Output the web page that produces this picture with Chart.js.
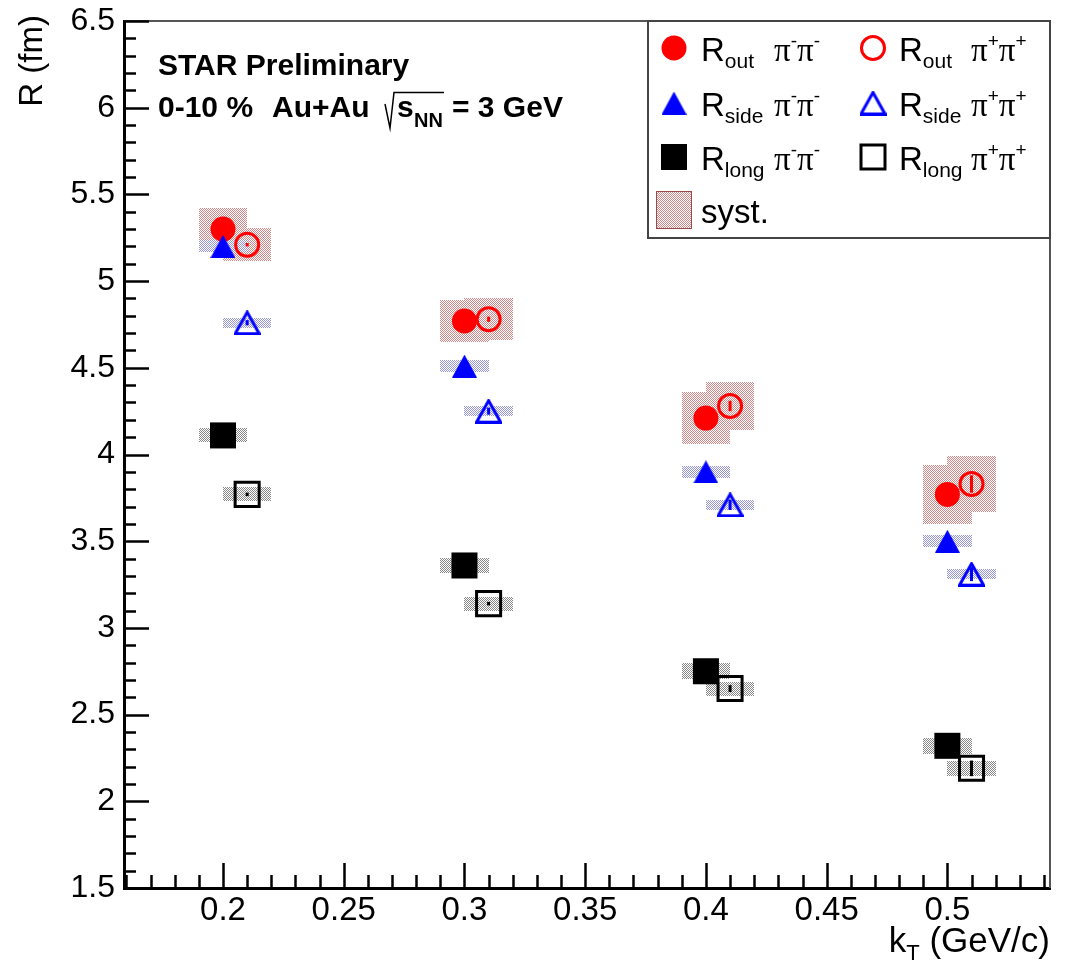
<!DOCTYPE html>
<html>
<head>
<meta charset="utf-8">
<title>HBT radii vs kT</title>
<script src="https://cdn.jsdelivr.net/npm/chart.js@4.4.1/dist/chart.umd.min.js"></script>
<style>
  html, body { margin: 0; padding: 0; background: #fff; overflow: hidden; }
  #box { width: 1070px; height: 967px; }
</style>
</head>
<body>
<div id="box"><canvas id="myChart"></canvas></div>
<script>
// pair kT (GeV/c); the pi+pi+ points are shifted a bit to the right
const ktMinus = [0.2, 0.3, 0.4, 0.5];
const ktPlus = [0.21, 0.31, 0.41, 0.51];

// radii (fm)
const routMinus = [5.30, 4.77, 4.21, 3.77];
const routPlus = [5.21, 4.78, 4.28, 3.83];
const rsideMinus = [5.20, 4.51, 3.90, 3.50];
const rsidePlus = [4.76, 4.25, 3.71, 3.31];
const rlongMinus = [4.11, 3.36, 2.75, 2.32];
const rlongPlus = [3.77, 3.14, 2.65, 2.19];

// statistical errors (fm)
const routMinusStat = [0.01, 0.015, 0.025, 0.04];
const routPlusStat = [0.01, 0.015, 0.03, 0.05];
const rsideMinusStat = [0.01, 0.015, 0.02, 0.03];
const rsidePlusStat = [0.015, 0.02, 0.03, 0.04];
const rlongMinusStat = [0.01, 0.01, 0.015, 0.03];
const rlongPlusStat = [0.01, 0.01, 0.02, 0.045];

// systematic errors (fm), boxes are +-0.01 GeV/c wide
const routMinusSys = [0.12, 0.12, 0.15, 0.17];
const routPlusSys = [0.095, 0.12, 0.14, 0.16];
const rsideMinusSys = [0.035, 0.035, 0.035, 0.035];
const rsidePlusSys = [0.03, 0.03, 0.03, 0.03];
const rlongMinusSys = [0.04, 0.045, 0.045, 0.045];
const rlongPlusSys = [0.04, 0.04, 0.04, 0.045];
const sysHalfWidth = 0.01;

const yTicks = [1.5, 2, 2.5, 3, 3.5, 4, 4.5, 5, 5.5, 6, 6.5];
const xTicks = [0.2, 0.25, 0.3, 0.35, 0.4, 0.45, 0.5];

const SANS = "'Liberation Sans', Arial, Helvetica, sans-serif";
const SERIF = "'Liberation Serif', 'Times New Roman', serif";
const RED = '#ff0000', BLUE = '#0000ff', BLACK = '#000000';

const canvas = document.getElementById('myChart');

function dotPattern(color) {
  const c = document.createElement('canvas');
  c.width = 2; c.height = 2;
  const g = c.getContext('2d');
  g.fillStyle = color;
  g.fillRect(0, 0, 1, 1);
  g.fillRect(1, 1, 1, 1);
  return canvas.getContext('2d').createPattern(c, 'repeat');
}
const redSys = dotPattern('rgb(208,135,135)');
const blueSys = dotPattern('rgb(150,150,215)');
const graySys = dotPattern('rgb(135,135,135)');

// triangles as images so they sit centred on their bounding box like ROOT markers
function triangle(filled, color) {
  const w = filled ? 25 : 27, h = filled ? 23 : 25;
  const c = document.createElement('canvas');
  c.width = w; c.height = h;
  const g = c.getContext('2d');
  g.fillStyle = color; g.strokeStyle = color; g.lineWidth = 3;
  g.beginPath();
  if (filled) {
    g.moveTo(w / 2, 0); g.lineTo(w, h); g.lineTo(0, h);
    g.closePath(); g.fill();
  } else {
    g.moveTo(w / 2, 2); g.lineTo(w - 1.5, h - 1.5); g.lineTo(1.5, h - 1.5);
    g.closePath(); g.stroke();
  }
  return c;
}
const triFilled = triangle(true, BLUE);
const triOpen = triangle(false, BLUE);

function pts(xs, ys) {
  return xs.map((x, i) => ({ x: x, y: ys[i] }));
}

const datasets = [
  { label: 'Rout pi-pi-', data: pts(ktMinus, routMinus), stat: routMinusStat, sys: routMinusSys, sysFill: redSys,
    pointStyle: 'circle', pointRadius: 12.5, pointBackgroundColor: RED, pointBorderColor: RED, pointBorderWidth: 0, order: 6 },
  { label: 'Rout pi+pi+', data: pts(ktPlus, routPlus), stat: routPlusStat, sys: routPlusSys, sysFill: redSys,
    pointStyle: 'circle', pointRadius: 11.5, pointBackgroundColor: 'rgba(0,0,0,0)', pointBorderColor: RED, pointBorderWidth: 3, order: 5 },
  { label: 'Rside pi-pi-', data: pts(ktMinus, rsideMinus), stat: rsideMinusStat, sys: rsideMinusSys, sysFill: blueSys,
    pointStyle: triFilled, pointRadius: 13, pointBackgroundColor: BLUE, pointBorderColor: BLUE, order: 4 },
  { label: 'Rside pi+pi+', data: pts(ktPlus, rsidePlus), stat: rsidePlusStat, sys: rsidePlusSys, sysFill: blueSys,
    pointStyle: triOpen, pointRadius: 13, pointBackgroundColor: BLUE, pointBorderColor: BLUE, order: 3 },
  { label: 'Rlong pi-pi-', data: pts(ktMinus, rlongMinus), stat: rlongMinusStat, sys: rlongMinusSys, sysFill: graySys,
    pointStyle: 'rect', pointRadius: 18.4, pointBackgroundColor: BLACK, pointBorderColor: BLACK, pointBorderWidth: 0, order: 2 },
  { label: 'Rlong pi+pi+', data: pts(ktPlus, rlongPlus), stat: rlongPlusStat, sys: rlongPlusSys, sysFill: graySys,
    pointStyle: 'rect', pointRadius: 17, pointBackgroundColor: 'rgba(0,0,0,0)', pointBorderColor: BLACK, pointBorderWidth: 3, order: 1 },
];

function put(ctx, text, x, y, size, opts) {
  opts = opts || {};
  ctx.font = (opts.bold ? 'bold ' : '') + size + 'px ' + (opts.serif ? SERIF : SANS);
  ctx.fillText(text, x, y);
  return ctx.measureText(text).width;
}

function legendMarker(ctx, kind, filled, color, x, y) {
  ctx.save();
  ctx.fillStyle = color; ctx.strokeStyle = color; ctx.lineWidth = 3;
  if (kind === 'triangle') {
    const img = filled ? triFilled : triOpen;
    ctx.drawImage(img, x - img.width / 2, y - img.height / 2);
  } else {
    ctx.beginPath();
    if (kind === 'circle') ctx.arc(x, y, filled ? 12.5 : 11.5, 0, 2 * Math.PI);
    else { const h = filled ? 13 : 12; ctx.rect(x - h, y - h, 2 * h, 2 * h); }
    if (filled) ctx.fill(); else ctx.stroke();
  }
  ctx.restore();
}

function pionPair(ctx, sign, x, base) {
  let cx = x;
  cx += put(ctx, 'π', cx, base, 33, { serif: true });
  cx += put(ctx, sign, cx, base - 14, 19);
  cx += put(ctx, 'π', cx, base, 33, { serif: true });
  put(ctx, sign, cx, base - 14, 19);
}

// zero the label overhang so the plot frame lands where the original has it
function noPadding(s) {
  s.paddingTop = 0; s.paddingBottom = 0; s.paddingLeft = 0; s.paddingRight = 0;
}

const rootStyle = {
  id: 'rootStyle',
  beforeDatasetsDraw(chart) {
    const { ctx, chartArea: a, scales: { x, y } } = chart;
    ctx.save();
    ctx.beginPath();
    ctx.rect(a.left, a.top, a.width, a.height);
    ctx.clip();
    // systematic boxes
    chart.data.datasets.forEach(ds => {
      ds.data.forEach((p, i) => {
        const x0 = Math.round(x.getPixelForValue(p.x - sysHalfWidth));
        const x1 = Math.round(x.getPixelForValue(p.x + sysHalfWidth));
        const y0 = Math.round(y.getPixelForValue(p.y + ds.sys[i]));
        const y1 = Math.round(y.getPixelForValue(p.y - ds.sys[i]));
        ctx.fillStyle = ds.sysFill;
        ctx.fillRect(x0, y0, x1 - x0, y1 - y0);
      });
    });
    // statistical error bars
    ctx.lineWidth = 3;
    chart.data.datasets.forEach(ds => {
      ctx.strokeStyle = ds.pointBorderColor;
      ds.data.forEach((p, i) => {
        const px = x.getPixelForValue(p.x);
        ctx.beginPath();
        ctx.moveTo(px, y.getPixelForValue(p.y + ds.stat[i]));
        ctx.lineTo(px, y.getPixelForValue(p.y - ds.stat[i]));
        ctx.stroke();
      });
    });
    ctx.restore();
  },
  afterDraw(chart) {
    const { ctx, chartArea: a, scales: { x, y } } = chart;
    ctx.save();

    // frame top / right
    ctx.strokeStyle = '#555';
    ctx.lineWidth = 2;
    ctx.beginPath();
    ctx.moveTo(a.left, a.top); ctx.lineTo(a.right, a.top); ctx.lineTo(a.right, a.bottom);
    ctx.stroke();

    // inward ticks, ROOT style
    ctx.strokeStyle = '#000';
    ctx.lineWidth = 2.5;
    ctx.beginPath();
    for (let i = 15; i <= 65; i++) {
      const py = Math.round(y.getPixelForValue(i / 10)) + 0.5;
      const len = i % 5 === 0 ? 25 : 12;
      ctx.moveTo(a.left, py); ctx.lineTo(a.left + len, py);
    }
    for (let i = 16; i <= 54; i++) {
      const v = i / 100;
      if (v < x.min || v > x.max) continue;
      const px = Math.round(x.getPixelForValue(v)) + 0.5;
      const len = i % 5 === 0 ? 25 : 13;
      ctx.moveTo(px, a.bottom); ctx.lineTo(px, a.bottom - len);
    }
    ctx.stroke();

    ctx.fillStyle = '#000';
    ctx.textBaseline = 'alphabetic';

    // y title
    ctx.save();
    ctx.translate(42, 15);
    ctx.rotate(-Math.PI / 2);
    ctx.textAlign = 'right';
    put(ctx, 'R (fm)', 0, 0, 33);
    ctx.restore();

    // x title, right aligned
    ctx.font = '35px ' + SANS;
    const wk = ctx.measureText('k').width;
    const wRest = ctx.measureText(' (GeV/c)').width;
    ctx.font = '22px ' + SANS;
    const wT = ctx.measureText('T').width;
    let tx = a.right - wk - wT - wRest;
    tx += put(ctx, 'k', tx, 952, 35);
    tx += put(ctx, 'T', tx, 960, 22);
    put(ctx, ' (GeV/c)', tx, 952, 35);

    // labels
    put(ctx, 'STAR Preliminary', 158, 75, 30, { bold: true });
    put(ctx, '0-10 %', 158, 117, 30, { bold: true });
    put(ctx, 'Au+Au', 272, 117, 30, { bold: true });
    ctx.lineWidth = 1.5;
    ctx.beginPath();
    ctx.moveTo(385, 104); ctx.lineTo(390, 128); ctx.lineTo(394, 92.5); ctx.lineTo(444, 92.5);
    ctx.stroke();
    put(ctx, 's', 397, 117, 30, { bold: true });
    put(ctx, 'NN', 414, 127, 20, { bold: true });
    put(ctx, '= 3 GeV', 452, 117, 30, { bold: true });

    // legend
    const L = 648, T = a.top, R = a.right, B = 238;
    ctx.fillStyle = '#fff';
    ctx.fillRect(L, T, R - L, B - T);
    ctx.strokeStyle = '#444';
    ctx.lineWidth = 2;
    ctx.strokeRect(L, T, R - L, B - T);
    ctx.fillStyle = '#000';

    const rows = [
      { y: 48, kind: 'circle', color: RED, sub: 'out' },
      { y: 103, kind: 'triangle', color: BLUE, sub: 'side' },
      { y: 157, kind: 'rect', color: BLACK, sub: 'long' },
    ];
    rows.forEach(r => {
      legendMarker(ctx, r.kind, true, r.color, 674, r.y);
      legendMarker(ctx, r.kind, false, r.color, 873, r.y);
      ctx.fillStyle = '#000';
      let w = put(ctx, 'R', 701, r.y + 13, 33);
      put(ctx, r.sub, 701 + w, r.y + 20, 21);
      pionPair(ctx, '-', 774, r.y + 13);
      w = put(ctx, 'R', 899, r.y + 13, 33);
      put(ctx, r.sub, 899 + w, r.y + 20, 21);
      pionPair(ctx, '+', 971, r.y + 13);
    });
    ctx.fillStyle = redSys;
    ctx.fillRect(656, 191, 36, 38);
    ctx.strokeStyle = '#9a4a4a';
    ctx.lineWidth = 1;
    ctx.strokeRect(656.5, 191.5, 35, 37);
    ctx.fillStyle = '#000';
    put(ctx, 'syst.', 701, 223, 33);

    ctx.restore();
  }
};

Chart.defaults.font.family = SANS;
Chart.defaults.color = '#000';

const config = {
  type: 'scatter',
  data: { datasets: datasets },
  options: {
    responsive: true,
    maintainAspectRatio: false,
    animation: false,
    events: [],
    layout: { padding: { top: 21, right: 12, left: 0, bottom: 0 } },
    plugins: {
      legend: { display: false },
      tooltip: { enabled: false },
    },
    scales: {
      x: {
        type: 'linear',
        min: 0.159,
        max: 0.5425,
        grid: { display: false, drawTicks: false },
        border: { display: true, color: '#000', width: 3 },
        afterBuildTicks: (s) => { s.ticks = xTicks.map(v => ({ value: v })); },
        afterFit: (s) => { s.height = 79; noPadding(s); },
        ticks: {
          padding: 3,
          maxRotation: 0,
          autoSkip: false,
          color: '#000',
          font: { size: 33 },
          callback: (v) => String(Math.round(v * 100) / 100),
        },
      },
      y: {
        min: 1.5,
        max: 6.5,
        grid: { display: false, drawTicks: false },
        border: { display: true, color: '#000', width: 3 },
        afterBuildTicks: (s) => { s.ticks = yTicks.map(v => ({ value: v })); },
        afterFit: (s) => { s.width = 124; noPadding(s); },
        ticks: {
          padding: 9,
          color: '#000',
          font: { size: 32 },
          callback: (v) => String(v),
        },
      },
    },
  },
  plugins: [rootStyle],
};

const myChart = new Chart(canvas, config);
</script>
</body>
</html>
